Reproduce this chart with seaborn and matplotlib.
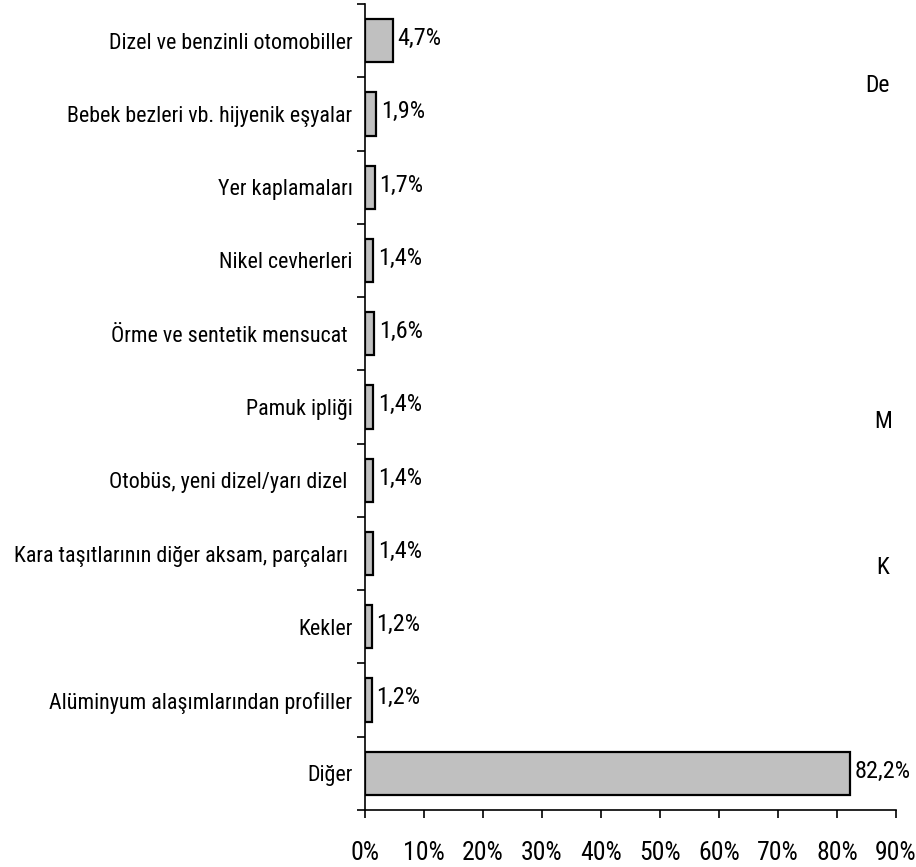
import matplotlib
matplotlib.use("Agg")
import matplotlib.pyplot as plt
import seaborn as sns
import pandas as pd
import numpy as np
from matplotlib.ticker import FixedLocator

categories = [
    "Dizel ve benzinli otomobiller",
    "Bebek bezleri vb. hijyenik eşyalar",
    "Yer kaplamaları",
    "Nikel cevherleri",
    "Örme ve sentetik mensucat ",
    "Pamuk ipliği",
    "Otobüs, yeni dizel/yarı dizel ",
    "Kara taşıtlarının diğer aksam, parçaları ",
    "Kekler",
    "Alüminyum alaşımlarından profiller",
    "Diğer",
]
values = [4.7, 1.9, 1.7, 1.4, 1.6, 1.4, 1.4, 1.4, 1.2, 1.2, 82.2]
x_ticks = [0, 10, 20, 30, 40, 50, 60, 70, 80, 90]
side_texts = ["De", "M", "K"]

sns.set_theme(style="white")
plt.rcParams['font.family'] = ['Liberation Sans Narrow', 'Arial Narrow', 'Roboto Condensed',
                               'PT Sans Narrow', 'Archivo Narrow', 'DejaVu Sans']
plt.rcParams['text.color'] = 'black'
plt.rcParams['xtick.color'] = 'black'
plt.rcParams['ytick.color'] = 'black'

df = pd.DataFrame({"cat": categories, "val": values})

fig = plt.figure(figsize=(9.16, 8.67), dpi=100)
ax = fig.add_axes([365 / 916, 57 / 867, (896 - 365) / 916, (810 - 4) / 867])

sns.barplot(data=df, x="val", y="cat", color="#C0C0C0", saturation=1,
            edgecolor="black", linewidth=1.6, width=0.59, ax=ax)

ax.set_xlim(0, 90)
ax.set_ylim(len(categories) - 0.5, -0.5)
ax.set_xlabel("")
ax.set_ylabel("")
ax.set_xticks(x_ticks)
ax.set_xticklabels([f"{t}%" for t in x_ticks], fontsize=18.5)
ax.tick_params(axis="x", bottom=True, direction="out", length=6, width=1.2,
               color="black", pad=16, labelcolor="black")
ax.tick_params(axis="y", which="major", left=False, length=0, pad=9,
               labelsize=15.8, labelcolor="black")
ax.yaxis.set_minor_locator(FixedLocator(np.arange(-0.5, len(categories), 1.0)))
ax.tick_params(axis="y", which="minor", left=True, direction="out", length=6,
               width=1.2, color="black")

for s in ["top", "right"]:
    ax.spines[s].set_visible(False)
for s in ["left", "bottom"]:
    ax.spines[s].set_color("black")
    ax.spines[s].set_linewidth(1.2)

for i, v in enumerate(values):
    ax.text(v + 0.75, i - 0.03, f"{v:.1f}%".replace(".", ","), va="center", ha="left",
            fontsize=17.5, color="black")

fig.text(865 / 916, 1 - 85 / 867, side_texts[0], fontsize=17, va="center", ha="left")
fig.text(874 / 916, 1 - 421 / 867, side_texts[1], fontsize=17, va="center", ha="left")
fig.text(876 / 916, 1 - 568 / 867, side_texts[2], fontsize=17, va="center", ha="left")

fig.savefig("out.png", dpi=100, facecolor="white")
